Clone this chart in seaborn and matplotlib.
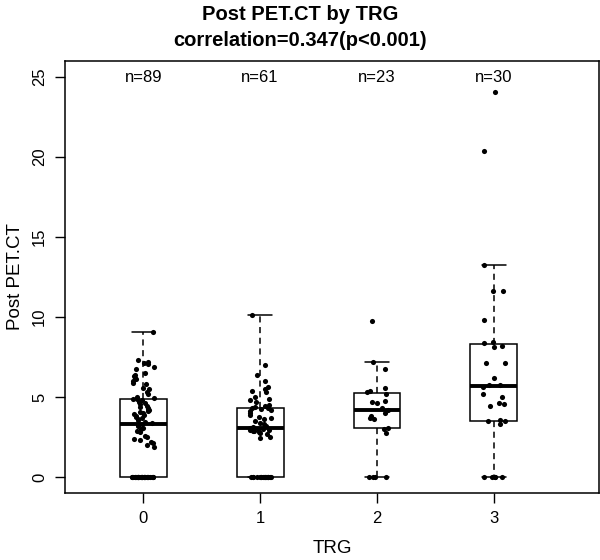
import numpy as np
import pandas as pd
import seaborn as sns
import matplotlib
matplotlib.use("Agg")
import matplotlib.pyplot as plt

# values, one list per TRG group
trg0 = [0.0] * 30 + [1.9, 2.0, 2.1, 2.2, 2.3, 2.4, 2.5, 2.55, 2.8, 2.9, 3.0, 3.05, 3.2, 3.25,
                     3.3,
                     3.35, 3.45, 3.55, 3.6, 3.7, 3.75, 3.8, 3.9, 3.95, 4.0, 4.05, 4.1, 4.2, 4.25,
                     4.3, 4.4, 4.45, 4.55, 4.6, 4.7, 4.8,
                     4.85,
                     4.9, 4.95, 5.0, 5.2, 5.3, 5.5, 5.55, 5.8, 5.9, 6.0, 6.1, 6.2, 6.3, 6.4,
                     6.5, 6.75, 6.9, 7.05, 7.1, 7.2, 7.3, 9.06]
trg1 = [0.0] * 18 + [2.45, 2.5, 2.7, 2.75, 2.8, 2.85, 2.9, 2.95, 2.95, 3.0, 3.0, 3.02,
                     3.04,
                     3.1, 3.2, 3.3, 3.4, 3.5, 3.6, 3.7, 3.75, 3.9, 4.0, 4.1, 4.2, 4.25, 4.3,
                     4.33,
                     4.4, 4.45, 4.5, 4.7, 4.8, 4.9, 5.0, 5.3, 5.4, 5.5, 5.6, 6.0, 6.4, 7.0, 10.13]
trg2 = [0.0] * 4 + [2.77, 3.0, 3.08, 3.6, 3.7, 3.8, 4.0, 4.19, 4.3, 4.65, 4.7, 4.75, 5.2,
                    5.3, 5.4, 5.55, 6.73, 7.21, 9.75]
trg3 = [0.0] * 5 + [3.3, 3.5, 3.52, 3.55, 4.45, 4.55, 4.65, 5.0, 5.2, 5.62, 5.72, 5.75,
                    6.2, 7.1, 7.15, 8.1, 8.2, 8.35, 8.45, 9.8, 11.6, 11.65, 13.25, 20.4, 24.06]

groups = ["0", "1", "2", "3"]
values = [trg0, trg1, trg2, trg3]

df = pd.DataFrame({
    "TRG": np.concatenate([[g] * len(v) for g, v in zip(groups, values)]),
    "Post PET.CT": np.concatenate(values),
})

sns.set_style("white")
plt.rcParams["font.family"] = ["Liberation Sans", "DejaVu Sans"]
plt.rcParams["text.color"] = "black"
plt.rcParams["axes.labelcolor"] = "black"

fig = plt.figure(figsize=(6, 5.6), dpi=100)
ax = fig.add_axes([65 / 600, 67 / 560, 534 / 600, 432 / 560])

sns.boxplot(data=df, x="TRG", y="Post PET.CT", order=groups, ax=ax,
            width=0.4, showfliers=False, whis=1.5,
            boxprops=dict(facecolor="white", edgecolor="black", linewidth=1.1),
            whiskerprops=dict(color="black", linestyle=(0, (4, 3)), linewidth=1.1),
            capprops=dict(color="black", linewidth=1.1),
            medianprops=dict(color="black", linewidth=2.8))

np.random.seed(3)
sns.stripplot(data=df, x="TRG", y="Post PET.CT", order=groups, ax=ax,
              color="black", size=3.7, jitter=0.1, zorder=5)

# sample sizes above each box
for i, v in enumerate(values):
    ax.text(i, 25, f"n={len(v)}", ha="center", va="center", fontsize=12)

ax.set_xlim(-0.67, 3.9)
ax.set_ylim(-1, 26)
ax.set_yticks([0, 5, 10, 15, 20, 25])
ax.set_yticklabels(["0", "5", "10", "15", "20", "25"], rotation=90, va="center")
ax.tick_params(axis="both", direction="out", length=7, width=1, labelsize=12,
               color="black", labelcolor="black", left=True, bottom=True, pad=6)
for s in ax.spines.values():
    s.set_color("black")
    s.set_linewidth(1.1)

ax.set_xlabel("TRG", fontsize=13.5, labelpad=10)
ax.set_ylabel("Post PET.CT", fontsize=13.5, labelpad=6)

fig.text(0.5, 1 - 15 / 560, "Post PET.CT by TRG", ha="center", va="center",
         fontsize=14.5, fontweight="bold")
fig.text(0.5, 1 - 41 / 560, "correlation=0.347(p<0.001)", ha="center", va="center",
         fontsize=14.5, fontweight="bold")

plt.savefig("out.png", dpi=100)
